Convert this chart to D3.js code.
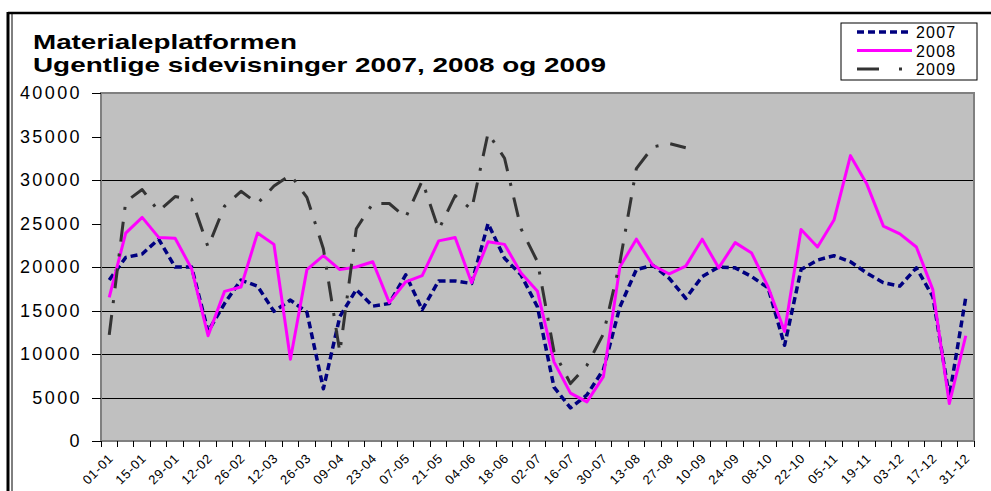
<!DOCTYPE html>
<html lang="no">
<head>
<meta charset="utf-8">
<title>Materialeplatformen</title>
<script src="https://cdn.jsdelivr.net/npm/d3@7"></script>
<style>
  body { margin: 0; background: #fff; font-family: Arial, "Liberation Sans", sans-serif; }
  .grid line { stroke: #000; stroke-width: 1; shape-rendering: crispEdges; }
  .yaxis path { display: none; }
  .yaxis line { stroke: #000; shape-rendering: crispEdges; }
</style>
</head>
<body>
<script>
// weekly categories (non-leap year), label on every second week
var weeks = ["01-01","08-01","15-01","22-01","29-01","05-02","12-02","19-02","26-02","05-03",
             "12-03","19-03","26-03","02-04","09-04","16-04","23-04","30-04","07-05","14-05",
             "21-05","28-05","04-06","11-06","18-06","25-06","02-07","09-07","16-07","23-07",
             "30-07","06-08","13-08","20-08","27-08","03-09","10-09","17-09","24-09","01-10",
             "08-10","15-10","22-10","29-10","05-11","12-11","19-11","26-11","03-12","10-12",
             "17-12","24-12","31-12"];

var v2007 = [18500,21100,21500,23200,20000,20000,12600,15800,18500,17800,
             14900,16200,14800,6000,14300,17400,15500,15800,19100,15100,
             18400,18400,18100,25000,21000,19100,15400,6200,3800,5300,
             8200,15400,19700,20200,18700,16400,18900,20000,19900,18900,
             17600,11000,19700,20800,21300,20600,19300,18200,17800,19900,
             16600,5100,16500];

var v2008 = [16500,23900,25700,23400,23300,19800,12100,17200,17700,23900,
             22600,9400,19700,21300,19700,20000,20600,15900,18300,19000,
             23000,23400,18200,22900,22600,19300,17200,9100,5500,4500,
             7400,20000,23200,20200,19200,20100,23200,19900,22800,21600,
             17700,12600,24300,22300,25400,32800,29500,24700,23800,22300,
             17400,4300,12100];

var v2009 = [12200,27500,28900,26400,28100,27800,22300,27000,28700,27300,
             29300,30600,28000,22100,10200,24400,27300,27300,25700,29900,
             24300,28200,26600,35400,32500,24400,20600,10300,6600,8700,
             12300,20500,31300,33800,34200,33700];

var yTicks = [0,5000,10000,15000,20000,25000,30000,35000,40000];
var gridValues = [5000,10000,15000,20000,30000];

var series = [
  {name: "2007", values: v2007, color: "#000080", width: 3.5, dash: "7,4"},
  {name: "2008", values: v2008, color: "#ff00ff", width: 3, dash: null},
  {name: "2009", values: v2009, color: "#333333", width: 3, dash: "20,12,3,12"}
];

var W = 991, H = 491;
var mLeft = 101, mTop = 93, plotW = 873, plotH = 348;

var svg = d3.select("body").append("svg")
    .attr("width", W)
    .attr("height", H);

// outer frame
svg.append("line").attr("x1", 8).attr("x2", 991).attr("y1", 13).attr("y2", 13)
   .attr("stroke", "#000").attr("stroke-width", 2.5);
svg.append("line").attr("x1", 8).attr("x2", 8).attr("y1", 12).attr("y2", 491)
   .attr("stroke", "#000").attr("stroke-width", 3);
svg.append("line").attr("x1", 12).attr("x2", 12).attr("y1", 14).attr("y2", 491)
   .attr("stroke", "#000").attr("stroke-width", 1);

// title (stretched like the original)
svg.append("text")
   .attr("x", 33).attr("y", 49)
   .attr("font-size", "21px").attr("font-weight", "bold")
   .attr("textLength", 264).attr("lengthAdjust", "spacingAndGlyphs")
   .text("Materialeplatformen");
svg.append("text")
   .attr("x", 33).attr("y", 72)
   .attr("font-size", "21px").attr("font-weight", "bold")
   .attr("textLength", 573).attr("lengthAdjust", "spacingAndGlyphs")
   .text("Ugentlige sidevisninger 2007, 2008 og 2009");

var x = d3.scaleBand().domain(weeks).range([0, plotW]).padding(0);
var y = d3.scaleLinear().domain([0, 40000]).range([plotH, 0]);

var g = svg.append("g").attr("transform", "translate(" + mLeft + "," + mTop + ")");

g.append("rect")
 .attr("width", plotW).attr("height", plotH)
 .attr("fill", "#c0c0c0");

g.append("g").attr("class", "grid")
 .selectAll("line").data(gridValues).enter().append("line")
 .attr("x1", 0).attr("x2", plotW)
 .attr("y1", function(d) { return Math.round(y(d)) + 0.5; })
 .attr("y2", function(d) { return Math.round(y(d)) + 0.5; });

g.append("rect")
 .attr("width", plotW).attr("height", plotH)
 .attr("fill", "none").attr("stroke", "#808080").attr("stroke-width", 2);

// y axis
var yAxis = g.append("g").attr("class", "yaxis")
  .call(d3.axisLeft(y).tickValues(yTicks).tickSize(9).tickPadding(10).tickFormat(d3.format("d")));
yAxis.selectAll("text")
  .attr("font-size", "18px").attr("letter-spacing", "2.4px")
  .attr("font-family", "Arial, 'Liberation Sans', sans-serif").attr("fill", "#000");

// x axis: tick marks at band boundaries, labels on every second week
var bounds = weeks.map(function(d) { return x(d); }).concat([plotW]);
g.append("g").selectAll("line").data(bounds).enter().append("line")
 .attr("x1", function(d) { return d; }).attr("x2", function(d) { return d; })
 .attr("y1", plotH).attr("y2", plotH + 6)
 .attr("stroke", "#000").attr("shape-rendering", "crispEdges");

var labelWeeks = weeks.filter(function(d, i) { return i % 2 === 0; });
g.append("g").selectAll("text").data(labelWeeks).enter().append("text")
 .attr("transform", function(d) {
   return "translate(" + (x(d) + x.bandwidth() / 2 + 5) + "," + (plotH + 18) + ") rotate(-45)";
 })
 .attr("text-anchor", "end")
 .attr("font-size", "13px")
 .attr("letter-spacing", "0.8px")
 .text(function(d) { return d; });

// lines
var line = d3.line()
  .x(function(d, i) { return x(weeks[i]) + x.bandwidth() / 2; })
  .y(function(d) { return y(d); });

series.forEach(function(s) {
  g.append("path")
   .datum(s.values)
   .attr("fill", "none")
   .attr("stroke", s.color)
   .attr("stroke-width", s.width)
   .attr("stroke-linejoin", "round")
   .attr("stroke-dasharray", s.dash)
   .attr("d", line);
});

// legend
var lg = svg.append("g").attr("transform", "translate(841,23)");
lg.append("rect").attr("width", 136).attr("height", 57)
  .attr("fill", "#fff").attr("stroke", "#000").attr("stroke-width", 1);
series.forEach(function(s, i) {
  var ly = 9 + i * 18.5;
  lg.append("line")
    .attr("x1", 16).attr("x2", 71).attr("y1", ly).attr("y2", ly)
    .attr("stroke", s.color).attr("stroke-width", s.width)
    .attr("stroke-dasharray", s.name === "2009" ? "22,20,3,40" : s.dash);
  lg.append("text")
    .attr("x", 75).attr("y", ly + 6)
    .attr("font-size", "16px").attr("letter-spacing", "1.2px")
    .text(s.name);
});
</script>
</body>
</html>
